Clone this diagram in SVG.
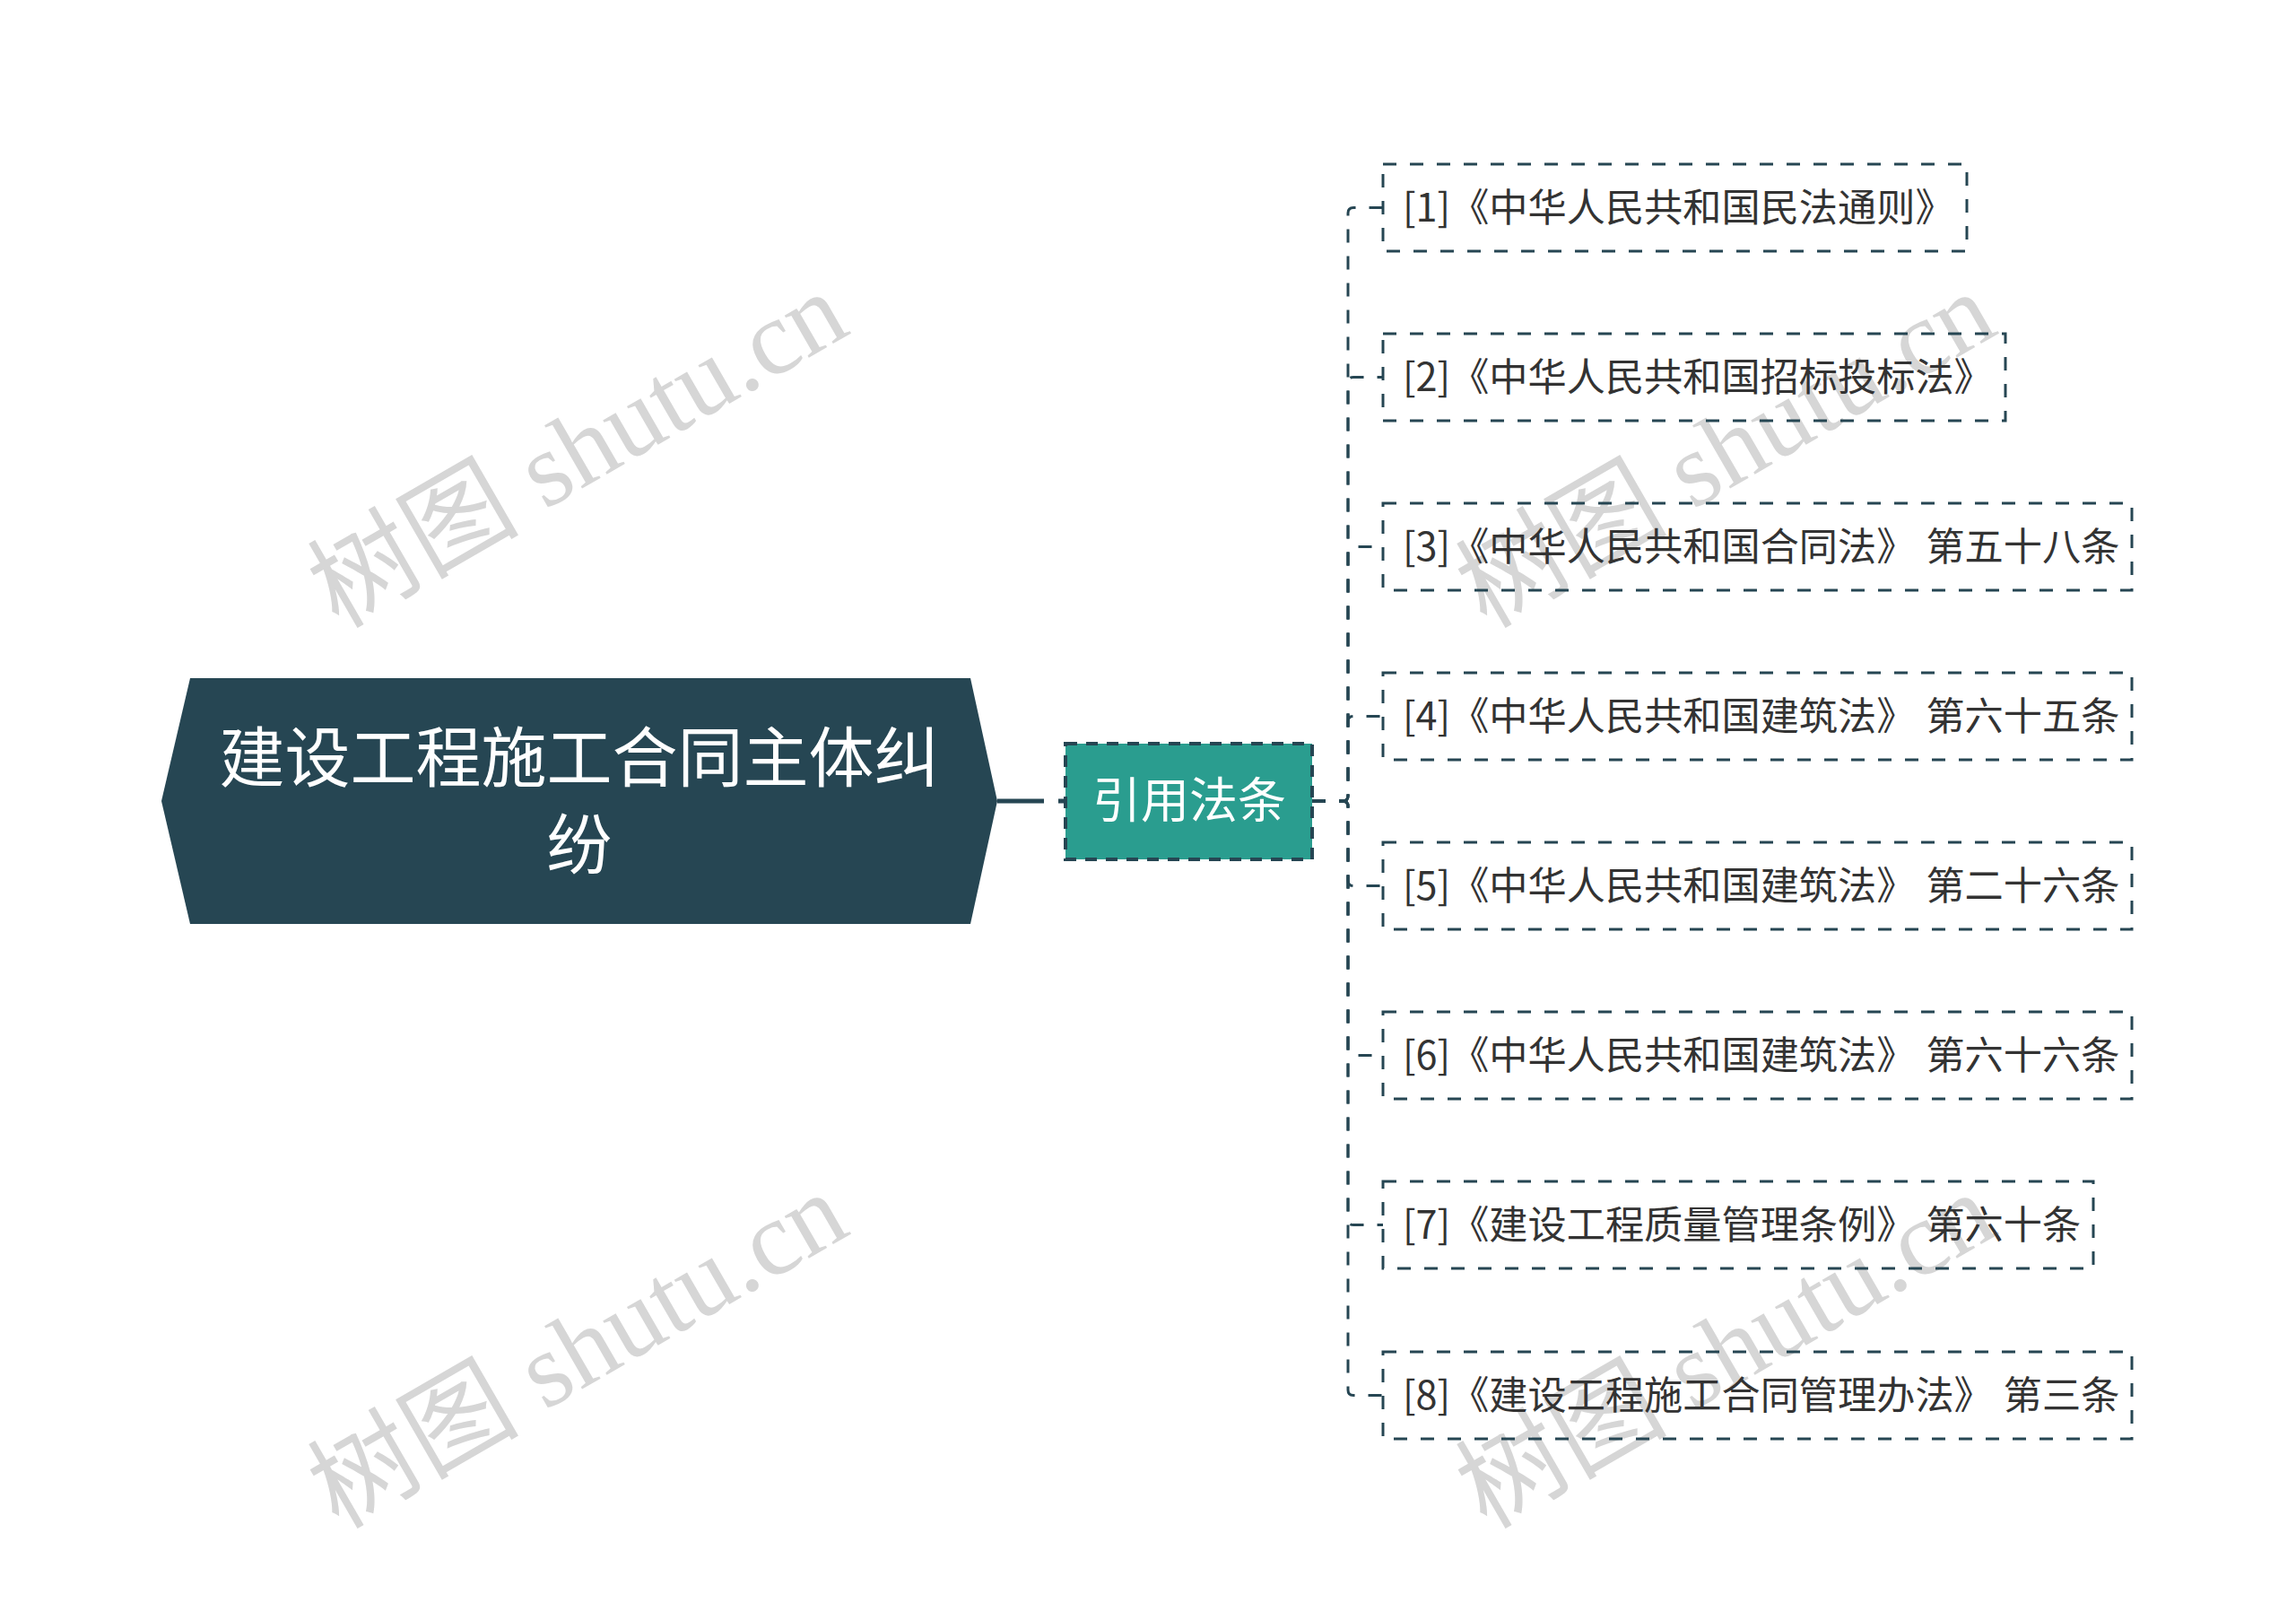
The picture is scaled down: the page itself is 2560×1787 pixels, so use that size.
<svg xmlns="http://www.w3.org/2000/svg" width="2560" height="1787" viewBox="0 0 2560 1787">
<style>
.wm{font-family:"Liberation Serif","Noto Sans CJK SC",serif;font-size:118px;fill:#d6d6d6;}
.leaf rect{fill:none;stroke:#264653;stroke-width:3;stroke-dasharray:15 15;}
.leaf text{font-family:"Noto Sans CJK SC",sans-serif;font-size:43.2px;fill:#333333;}
.sp{font-family:"Liberation Sans",sans-serif;}
.conn path{fill:none;stroke:#264653;stroke-width:3;stroke-dasharray:15 15;}
.title{font-family:"Noto Sans CJK SC",sans-serif;font-size:73px;fill:#ffffff;text-anchor:middle;}
.sub{font-family:"Noto Sans CJK SC",sans-serif;font-size:54px;fill:#ffffff;text-anchor:middle;}
</style>
<rect width="2560" height="1787" fill="#ffffff"/>
<g id="watermarks">
<text class="wm" x="664" y="536" text-anchor="middle" transform="rotate(-30 664 536)">树图 shutu.cn</text>
<text class="wm" x="1944" y="536" text-anchor="middle" transform="rotate(-30 1944 536)">树图 shutu.cn</text>
<text class="wm" x="664" y="1540" text-anchor="middle" transform="rotate(-30 664 1540)">树图 shutu.cn</text>
<text class="wm" x="1944" y="1540" text-anchor="middle" transform="rotate(-30 1944 1540)">树图 shutu.cn</text>
</g>
<g id="connectors" class="conn">
<path d="M1112,893 H1188" style="stroke-width:5;stroke-dasharray:52 16"/>
<path d="M1463,893 H1497 Q1503,893 1503,887 V237.5 Q1503,231.5 1509,231.5 H1542"/>
<path d="M1463,893 H1497 Q1503,893 1503,887 V426.5 Q1503,420.5 1509,420.5 H1542"/>
<path d="M1463,893 H1497 Q1503,893 1503,887 V615.5 Q1503,609.5 1509,609.5 H1542"/>
<path d="M1463,893 H1497 Q1503,893 1503,887 V804.5 Q1503,798.5 1509,798.5 H1542"/>
<path d="M1463,893 H1497 Q1503,893 1503,899 V981.5 Q1503,987.5 1509,987.5 H1542"/>
<path d="M1463,893 H1497 Q1503,893 1503,899 V1170.5 Q1503,1176.5 1509,1176.5 H1542"/>
<path d="M1463,893 H1497 Q1503,893 1503,899 V1359.5 Q1503,1365.5 1509,1365.5 H1542"/>
<path d="M1463,893 H1497 Q1503,893 1503,899 V1549.5 Q1503,1555.5 1509,1555.5 H1542"/>
</g>
<g id="root">
<polygon points="180,893 212,756 1082,756 1112,893 1082,1030 212,1030" fill="#264653"/>
<text class="title" x="646" y="871">建设工程施工合同主体纠</text>
<text class="title" x="646" y="968">纷</text>
</g>
<g id="branch">
<rect x="1188" y="829" width="275" height="129" fill="#2a9d8f" stroke="#264653" stroke-width="4" stroke-dasharray="13 10"/>
<text class="sub" x="1326" y="912">引用法条</text>
</g>
<g id="leaf1" class="leaf"><rect x="1542" y="183" width="651" height="97"/><text x="1564" y="247">[1]《中华人民共和国民法通则》</text></g>
<g id="leaf2" class="leaf"><rect x="1542" y="372" width="694" height="97"/><text x="1564" y="436">[2]《中华人民共和国招标投标法》</text></g>
<g id="leaf3" class="leaf"><rect x="1542" y="561" width="835" height="97"/><text x="1564" y="625">[3]《中华人民共和国合同法》<tspan class="sp"> </tspan>第五十八条</text></g>
<g id="leaf4" class="leaf"><rect x="1542" y="750" width="835" height="97"/><text x="1564" y="814">[4]《中华人民共和国建筑法》<tspan class="sp"> </tspan>第六十五条</text></g>
<g id="leaf5" class="leaf"><rect x="1542" y="939" width="835" height="97"/><text x="1564" y="1003">[5]《中华人民共和国建筑法》<tspan class="sp"> </tspan>第二十六条</text></g>
<g id="leaf6" class="leaf"><rect x="1542" y="1128" width="835" height="97"/><text x="1564" y="1192">[6]《中华人民共和国建筑法》<tspan class="sp"> </tspan>第六十六条</text></g>
<g id="leaf7" class="leaf"><rect x="1542" y="1317" width="792" height="97"/><text x="1564" y="1381">[7]《建设工程质量管理条例》<tspan class="sp"> </tspan>第六十条</text></g>
<g id="leaf8" class="leaf"><rect x="1542" y="1507" width="835" height="97"/><text x="1564" y="1571">[8]《建设工程施工合同管理办法》<tspan class="sp"> </tspan>第三条</text></g>
</svg>
